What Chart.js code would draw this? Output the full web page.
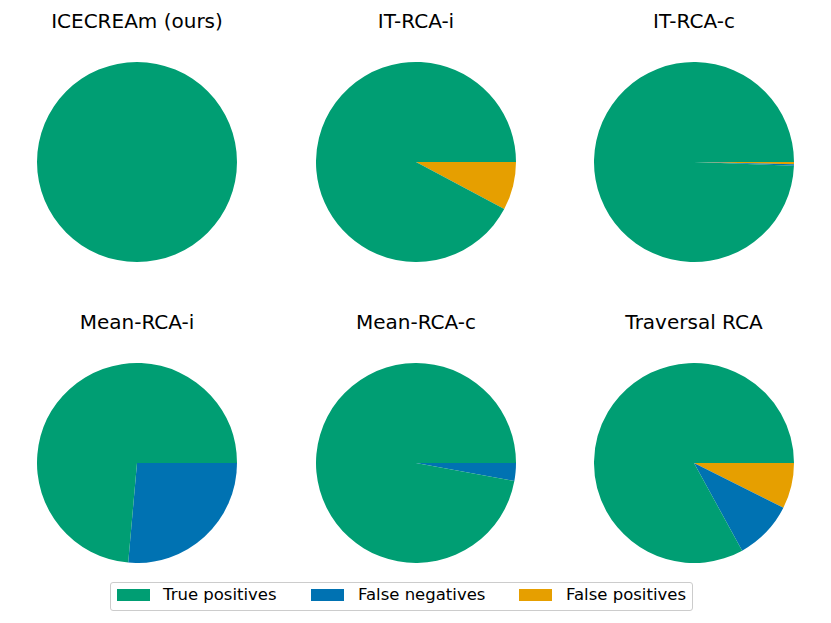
<!DOCTYPE html>
<html lang="en">
  <head>
    <meta charset="UTF-8" />
    <title>RCA pies</title>
    <script src="https://cdn.jsdelivr.net/npm/chart.js"></script>
    <style>
      body {
        margin: 0;
        background: #ffffff;
        font-family: "DejaVu Sans", sans-serif;
      }
      #figure {
        position: relative;
        width: 831px;
        height: 623px;
        overflow: hidden;
      }
      .pie-title {
        position: absolute;
        width: 260px;
        text-align: center;
        font-size: 20px;
        line-height: 20px;
        color: #000;
        white-space: nowrap;
      }
      .pie-canvas {
        position: absolute;
      }
      .legend {
        position: absolute;
        left: 110px;
        top: 582px;
        width: 581px;
        height: 27px;
        border: 1px solid #cccccc;
        border-radius: 3px;
      }
      .legend-patch {
        position: absolute;
        top: 589px;
        width: 33px;
        height: 12px;
      }
      .legend-text {
        position: absolute;
        top: 587px;
        font-size: 16.5px;
        line-height: 16.5px;
        color: #000;
        white-space: nowrap;
      }
    </style>
  </head>
  <body>
    <div id="figure"></div>

    <script>
      // methods, one pie each (row by row)
      const methods = ["ICECREAm (ours)", "IT-RCA-i", "IT-RCA-c", "Mean-RCA-i", "Mean-RCA-c", "Traversal RCA"];
      // shares in percent
      const truePositives = [100, 92.2, 99.4, 73.6, 97.1, 83.0];
      const falseNegatives = [0, 0, 0.25, 26.4, 2.9, 9.6];
      const falsePositives = [0, 7.8, 0.35, 0, 0, 7.4];

      const categories = ["True positives", "False negatives", "False positives"];
      const colors = ["#009E73", "#0072B2", "#E69F00"];

      const fig = document.getElementById("figure");
      const colCenters = [137, 416, 694];
      const rowCenters = [162, 463];
      const titleTops = [11, 312];
      const radius = 100;

      methods.forEach((name, i) => {
        const row = Math.floor(i / 3);
        const col = i % 3;

        const title = document.createElement("div");
        title.className = "pie-title";
        title.textContent = name;
        title.style.left = colCenters[col] - 130 + "px";
        title.style.top = titleTops[row] + "px";
        fig.appendChild(title);

        const canvas = document.createElement("canvas");
        canvas.className = "pie-canvas";
        canvas.width = radius * 2;
        canvas.height = radius * 2;
        canvas.style.left = colCenters[col] - radius + "px";
        canvas.style.top = rowCenters[row] - radius + "px";
        fig.appendChild(canvas);

        // matplotlib goes counter-clockwise from 3 o'clock, chart.js clockwise:
        // feed the slices reversed and start at 90 degrees
        new Chart(canvas.getContext("2d"), {
          type: "pie",
          data: {
            labels: categories.slice().reverse(),
            datasets: [
              {
                data: [falsePositives[i], falseNegatives[i], truePositives[i]],
                backgroundColor: colors.slice().reverse(),
                borderWidth: 0,
              },
            ],
          },
          options: {
            responsive: false,
            animation: false,
            rotation: 90,
            layout: { padding: 0 },
            plugins: {
              legend: { display: false },
              tooltip: { enabled: false },
            },
          },
        });
      });

      // legend underneath
      const legendBox = document.createElement("div");
      legendBox.className = "legend";
      fig.appendChild(legendBox);

      const patchLefts = [117, 311, 519];
      const textLefts = [163, 358, 566];
      categories.forEach((label, k) => {
        const patch = document.createElement("div");
        patch.className = "legend-patch";
        patch.style.left = patchLefts[k] + "px";
        patch.style.background = colors[k];
        fig.appendChild(patch);

        const text = document.createElement("div");
        text.className = "legend-text";
        text.style.left = textLefts[k] + "px";
        text.textContent = label;
        fig.appendChild(text);
      });
    </script>
  </body>
</html>
